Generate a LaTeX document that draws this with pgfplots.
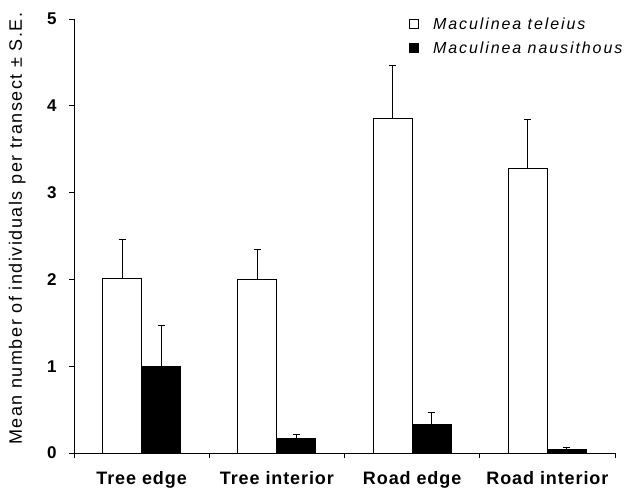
\documentclass[border=0pt]{standalone}
\usepackage{fontspec}
\setmainfont{Liberation Sans}
\usepackage{pgfplots}
\usepackage{pgfplotstable}
\pgfplotsset{compat=1.18}
\pgfplotstableread{
x y e
0 2.01 0.455
1 2.00 0.35
2 3.86 0.60
3 3.275 0.565
}\teleius
\pgfplotstableread{
x y e
0 0.994 0.476
1 0.169 0.051
2 0.33 0.14
3 0.04 0.02
}\nausithous
\newcommand\ticklabfont{\fontsize{17pt}{20pt}\selectfont\bfseries}
\newcommand\catfont{\fontsize{18pt}{21pt}\selectfont\bfseries\addfontfeature{LetterSpace=5}}
\newcommand\ylabfont{\fontsize{18pt}{21pt}\selectfont\addfontfeature{LetterSpace=8.5}}
\newcommand\legfont{\fontsize{16pt}{19pt}\selectfont\itshape\addfontfeature{LetterSpace=12}}
\begin{document}
\begin{tikzpicture}
\begin{axis}[
  name=ax,
  scale only axis, width=541pt, height=434pt,
  xmin=-0.5, xmax=3.5, ymin=0, ymax=5,
  ytick={0,1,2,3,4,5},
  yticklabel style={font=\ticklabfont, xshift=-9pt},
  /pgf/number format/assume math mode=true,
  axis x line*=bottom, axis y line*=left,
  axis line style={-, line width=0.8pt},
  tick align=outside, major tick length=5pt,
  tick style={black, line width=0.8pt},
  xtick={-0.5,0.5,1.5,2.5,3.5}, xticklabels={},
  extra x ticks={0,1,2,3},
  extra x tick labels={Tree edge, Tree interior, Road edge, Road interior},
  extra x tick style={major tick length=0pt, tick style={draw=none},
    xticklabel style={font=\catfont, yshift=-15pt}},
  ylabel={Mean number of individuals per transect ± S.E.},
  ylabel style={font=\ylabfont, at={(axis description cs:-0.105,0.517)}, anchor=center},
  ybar=0pt, bar width=39pt,
  legend style={at={(0.614,1.013)}, anchor=north west, draw=none, fill=none,
    font=\legfont, row sep=7pt},
  legend cell align=left,
]
\addplot[ybar, fill=white, draw=black, line width=0.8pt,
  legend image code/.code={\draw[fill=white,draw=black,line width=0.6pt] (0pt,-4.5pt) rectangle (9pt,4.5pt); \path (21pt,0pt);},
  error bars/.cd, y dir=plus, y explicit,
  error bar style={black, line width=0.8pt},
  error mark options={black, mark size=3.5pt, rotate=90, line width=0.8pt}]
  table[x=x, y=y, y error=e]{\teleius};
\addlegendentry{Maculinea teleius}
\addplot[ybar, fill=black, draw=black, line width=0.8pt,
  legend image code/.code={\draw[fill=black,draw=black,line width=0.6pt] (0pt,-4.5pt) rectangle (9pt,4.5pt); \path (21pt,0pt);},
  error bars/.cd, y dir=plus, y explicit,
  error bar style={black, line width=0.8pt},
  error mark options={black, mark size=3.5pt, rotate=90, line width=0.8pt}]
  table[x=x, y=y, y error=e]{\nausithous};
\addlegendentry{Maculinea nausithous}
\end{axis}
\pgfresetboundingbox
\path ([shift={(-74pt,-43pt)}]ax.south west) rectangle ([shift={(16pt,19pt)}]ax.north east);
\end{tikzpicture}
\end{document}
